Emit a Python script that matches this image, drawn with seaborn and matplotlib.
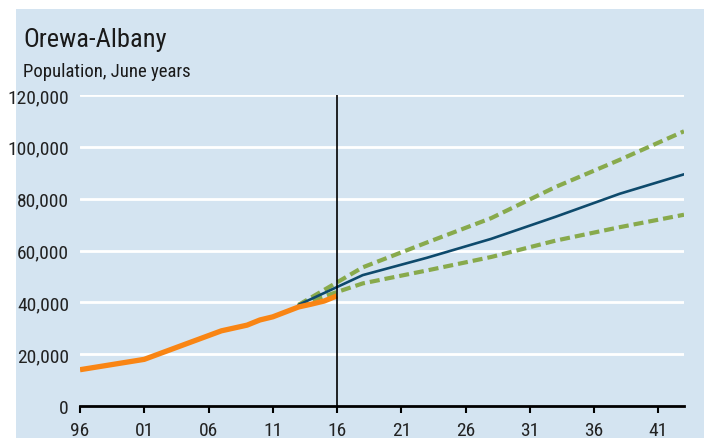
import matplotlib
matplotlib.use("Agg")
import matplotlib.pyplot as plt
from matplotlib.patches import Rectangle
from matplotlib import font_manager as fm
import seaborn as sns
import pandas as pd

# ---- data ----
hist_years = [1996, 2001, 2007, 2009, 2010, 2011, 2013, 2014, 2015, 2016]
hist_pop = [14000, 18000, 29000, 31200, 33200, 34400, 38200, 39300, 40500, 42500]

proj_years = [2013, 2018, 2023, 2028, 2033, 2038, 2043]
proj_medium = [39000, 50500, 57200, 64500, 73000, 81900, 89400]
proj_high = [39000, 53500, 63100, 72500, 84500, 95000, 106000]
proj_low = [39000, 47300, 52300, 57500, 63800, 69000, 73800]

x_ticks = [1996, 2001, 2006, 2011, 2016, 2021, 2026, 2031, 2036, 2041]
x_tick_labels = ["96", "01", "06", "11", "16", "21", "26", "31", "36", "41"]
y_ticks = [0, 20000, 40000, 60000, 80000, 100000, 120000]
y_tick_labels = ["0", "20,000", "40,000", "60,000", "80,000", "100,000", "120,000"]

title = "Orewa-Albany"
subtitle = "Population, June years"

# ---- style ----
sns.set_style("white")

# pick a narrow / condensed face if one is installed
names = {f.name for f in fm.fontManager.ttflist}
cond = [f for f in fm.fontManager.ttflist
        if f.stretch in ("condensed", "semi-condensed", "extra-condensed")
        or "Narrow" in f.name or "Condensed" in f.name]
fam, stretch, scale = "DejaVu Sans", "normal", 0.8
for pref in ("Liberation Sans Narrow", "Roboto Condensed", "Open Sans Condensed"):
    if pref in names:
        fam, stretch, scale = pref, "normal", 1.0
        break
else:
    dj = [f for f in cond if f.name == "DejaVu Sans"]
    if dj:
        fam, stretch, scale = "DejaVu Sans", "condensed", 0.88
    elif cond:
        fam, stretch, scale = cond[0].name, cond[0].stretch, 0.95
    elif "Roboto" in names:
        fam, stretch, scale = "Roboto", "normal", 0.82
plt.rcParams["font.family"] = [fam, "DejaVu Sans"]
plt.rcParams["font.stretch"] = stretch

BG = "#d4e4f1"
ORANGE = "#f98514"
BLUE = "#0e4a6c"
GREEN = "#88aa4c"

W, H = 708, 439
fig = plt.figure(figsize=(W / 100, H / 100), dpi=100)
fig.patch.set_facecolor("white")
fig.patches.append(Rectangle((16 / W, 0), (704 - 16) / W, (H - 10) / H,
                             transform=fig.transFigure, facecolor=BG,
                             edgecolor="none", zorder=-10))

ax = fig.add_axes([80 / W, (H - 407) / H, (684 - 80) / W, (407 - 96) / H])
ax.set_facecolor(BG)

df_hist = pd.DataFrame({"year": hist_years, "pop": hist_pop})
df_med = pd.DataFrame({"year": proj_years, "pop": proj_medium})
df_high = pd.DataFrame({"year": proj_years, "pop": proj_high})
df_low = pd.DataFrame({"year": proj_years, "pop": proj_low})

for d in (df_high, df_low):
    sns.lineplot(data=d, x="year", y="pop", ax=ax, color=GREEN,
                 linewidth=3.0, zorder=3)
for line in ax.get_lines():
    line.set_dashes((2.4, 1.2))
    line.set_dash_capstyle("butt")
sns.lineplot(data=df_med, x="year", y="pop", ax=ax, color=BLUE,
             linewidth=1.9, zorder=4)
sns.lineplot(data=df_hist, x="year", y="pop", ax=ax, color=ORANGE,
             linewidth=3.8, zorder=5, solid_capstyle="butt")

ax.axvline(2016, ymin=0, ymax=1, color="black", linewidth=1.2, zorder=6)

ax.set_xlim(1996, 2043)
ax.set_ylim(0, 120000)
ax.set_xticks(x_ticks)
ax.set_xticklabels(x_tick_labels)
ax.set_yticks(y_ticks)
ax.set_yticklabels(y_tick_labels)
ax.set_xlabel("")
ax.set_ylabel("")

for y in y_ticks[1:]:
    ax.axhline(y, color="white", linewidth=2.0, zorder=1)

for s in ("top", "right", "left"):
    ax.spines[s].set_visible(False)
ax.spines["bottom"].set_color("black")
ax.spines["bottom"].set_linewidth(2.0)
ax.spines["bottom"].set_zorder(7)

ax.tick_params(axis="x", which="both", direction="out", length=5, width=1.5,
               color="black", pad=6, labelsize=14 * scale, labelcolor="#222222",
               bottom=True)
ax.tick_params(axis="y", length=0, pad=8, labelsize=14 * scale, labelcolor="#222222")

fig.text(23 / W, (H - 47) / H, title, fontsize=19 * scale, color="#1a1a1a",
         ha="left", va="baseline")
fig.text(23 / W, (H - 77) / H, subtitle, fontsize=13.5 * scale, color="#1a1a1a",
         ha="left", va="baseline")

fig.savefig("out.png", dpi=100, facecolor=fig.get_facecolor())
